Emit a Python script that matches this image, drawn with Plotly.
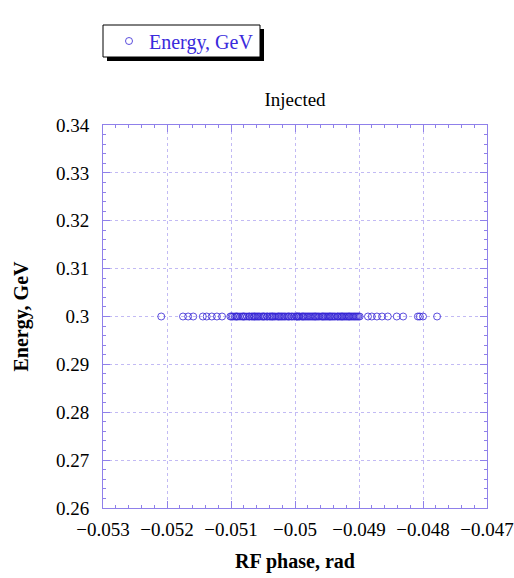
import plotly.graph_objects as go

# RF phase (rad) of the injected particles; every particle sits at 0.3 GeV
phase_rad = [
    -0.05209, -0.05175, -0.05167, -0.05159, -0.05144, -0.05138, -0.05130,
    -0.05122, -0.05114,
    -0.05101, -0.05097, -0.05094, -0.05089, -0.05086, -0.05083, -0.05078,
    -0.05075, -0.05072, -0.05071, -0.05066, -0.05063, -0.05059, -0.05055,
    -0.05052, -0.05047, -0.05044, -0.05043, -0.05040, -0.05036, -0.05031,
    -0.05028, -0.05025, -0.05021, -0.05017, -0.05015, -0.05012, -0.05009,
    -0.05006, -0.05001, -0.04998, -0.04994, -0.04993, -0.04990, -0.04987,
    -0.04983, -0.04981, -0.04979, -0.04975, -0.04971, -0.04968, -0.04964,
    -0.04962, -0.04959, -0.04956, -0.04952, -0.04948, -0.04945, -0.04941,
    -0.04937, -0.04934, -0.04933, -0.04929, -0.04926, -0.04922, -0.04918,
    -0.04915, -0.04911, -0.04907, -0.04903, -0.04899,
    -0.05099, -0.05092, -0.05081, -0.05068, -0.05061, -0.05057, -0.05049,
    -0.05038, -0.05033, -0.05023, -0.05019, -0.05004, -0.04996, -0.04985,
    -0.04977, -0.04973, -0.04966, -0.04954, -0.04950, -0.04943, -0.04939,
    -0.04931, -0.04924, -0.04920, -0.04913, -0.04909, -0.04905, -0.04901,
    -0.05091, -0.05080, -0.05064, -0.05050, -0.05035, -0.05026, -0.05010,
    -0.04997, -0.04988, -0.04969, -0.04957, -0.04946, -0.04927, -0.04916,
    -0.04886, -0.04880, -0.04872, -0.04864, -0.04855, -0.04841, -0.04831,
    -0.04808, -0.04805, -0.04800, -0.04778,
]
energy_gev = [0.3] * len(phase_rad)

x_range = [-0.053, -0.047]
y_range = [0.26, 0.34]

AXIS = "#8f80ea"
GRID = "#c2baf4"
MARK = "#3424d4"
SERIF = "Liberation Serif, Times New Roman, serif"

# plot area in pixels: 384 wide, 383 tall, offset (103, 125)
PW, PH, L, B = 384, 383, 103, 508


def px(x):
    return (x - L) / PW


def py(y):
    return (B - y) / PH


fig = go.Figure()
fig.add_trace(go.Scatter(
    x=phase_rad, y=energy_gev, mode="markers", name="Energy, GeV",
    marker=dict(symbol="circle-open", size=7, color=MARK, opacity=0.8,
                line=dict(width=1, color=MARK)),
))

axis_common = dict(
    showline=True, linecolor=AXIS, linewidth=1, mirror="ticks",
    ticks="inside", ticklen=7, tickcolor=AXIS, tickwidth=1,
    showgrid=True, gridcolor=GRID, griddash="3px,3px", gridwidth=1,
    zeroline=False, automargin=False,
    tickfont=dict(family=SERIF, size=19, color="black"),
    minor=dict(ticks="inside", ticklen=3, tickcolor=AXIS, nticks=5, showgrid=False),
)

fig.update_xaxes(
    range=x_range, dtick=0.001, tick0=-0.053, ticklabelstandoff=4,
    title=dict(text="<b>RF phase, rad</b>", standoff=15,
               font=dict(family=SERIF, size=20, color="black")),
    **axis_common,
)
fig.update_yaxes(
    range=y_range, dtick=0.01, tick0=0.26, ticklabelstandoff=9,
    title=dict(text="<b>Energy, GeV</b>", standoff=21,
               font=dict(family=SERIF, size=20, color="black")),
    **axis_common,
)

# legend frame with its drop shadow
fig.add_shape(type="rect", xref="paper", yref="paper",
              x0=px(107), x1=px(264), y0=py(61), y1=py(29),
              fillcolor="black", line=dict(width=0), layer="above")
fig.add_shape(type="rect", xref="paper", yref="paper",
              x0=px(103), x1=px(260), y0=py(57), y1=py(25),
              fillcolor="white", line=dict(width=1, color="black"), layer="above")

fig.update_layout(
    width=514, height=578,
    margin=dict(l=L, r=514 - L - PW, t=B - PH, b=578 - B),
    paper_bgcolor="white", plot_bgcolor="white",
    title=dict(text="Injected", x=px(295), xanchor="center", xref="paper",
               y=1 - 99 / 578, yanchor="middle",
               font=dict(family=SERIF, size=19, color="black")),
    showlegend=True,
    legend=dict(x=px(109), xanchor="left", y=py(41), yanchor="middle",
                bgcolor="rgba(0,0,0,0)", borderwidth=0,
                font=dict(family=SERIF, size=20, color="#3a2bdc")),
)

fig.write_html("out.html")
